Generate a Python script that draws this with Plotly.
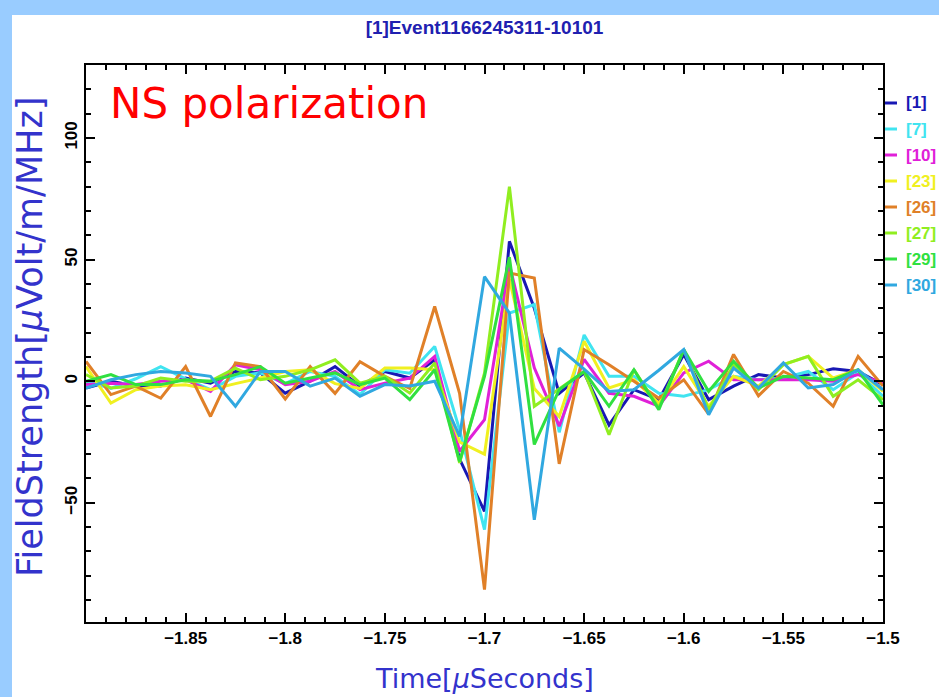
import plotly.graph_objects as go

# ---- data -----------------------------------------------------------------
times = [-1.9, -1.8875, -1.875, -1.8625, -1.85, -1.8375, -1.825, -1.8125, -1.8,
         -1.7875, -1.775, -1.7625, -1.75, -1.7375, -1.725, -1.7125, -1.7,
         -1.6875, -1.675, -1.6625, -1.65, -1.6375, -1.625, -1.6125, -1.6,
         -1.5875, -1.575, -1.5625, -1.55, -1.5375, -1.525, -1.5125, -1.5]

ant_1 = [-2.8, 0, -2, -2, 1.3, -0.8, 4, 3.4, -4.9, 0, 6, -2, 4, 1.3, 8.8, -32, -53.5,
         57.5, 30, -5, 3.4, -18, -3.5, -7.6, 11, -7.6, -2, 2.7, 1.3, 2.7, 5.1, 4, -1.4]
ant_7 = [0, -3, 1, 6, 1, -3.5, 2, 3.4, -1, 4, 2, -5.5, 4.7, 3.3, 14.3, -20, -61,
         28, 31.5, -21, 19, 2, 2, -5, -6.2, -3.5, 2, 0.6, 1.3, 4, -3.5, 3.4, -6.2]
ant_10 = [-1.4, -0.8, -1.4, 0, 0.6, -4.2, 6.8, 4.7, -1.4, 0, 4, -3.5, -0.8, 1.3, 10.2, -28.8, -15.8,
          48, 5.5, -18.5, 9, -5, -6.2, -10.3, 3.4, 8.2, 0.6, 0.6, 0.6, 0.6, 0, 2.7, -0.8]
ant_23 = [6, -9, -3.5, -2, -1.5, -3.5, -1, 1.3, 4, 4.7, -1, -3, 5.4, 5.4, 4.7, -25, -30,
          42, -3, -14.5, 16.4, -2.8, 0.6, -9, 6, -10.3, 2, -2, 6.8, 10.2, 1.3, 4.7, -4.2]
ant_26 = [8.1, -5.5, -2, -7, 6, -14.5, 7.5, 6, -7.3, 6, -5, 8, 2, -3, 30.7, -5, -85.7,
          44.5, 42.4, -34, 13, 6.8, 0, -7, 0.6, -13.5, 11, -6, 4, -0.8, -10.3, 10.2, -2]
ant_27 = [2.7, -2.8, -2, 1.3, 0, 0, 5.4, 0.6, 2, 4.7, 8.8, -0.8, 2, -4.9, 7.5, -33.6, 3.3,
          80, -10.3, -3, 4, -22, 4.7, -11, 13, -11.7, 6.8, -3.5, 6.8, 10.2, -6.2, 0.6, -7.6]
ant_29 = [0, 2.7, -1.4, -1.4, 0.6, 0, 2.7, 6, -0.8, 1.3, 3.4, -1.4, 1.3, -7.6, 4.7, -33, 2,
          51, -26, -3.5, 4, -10.3, 4.7, -11.7, 13, -4.2, 8.2, -2.8, 2, 1.3, 0.6, 4.7, -9.7]
ant_30 = [-2.8, 0.6, 2.7, 4, 3.4, 2, -10.3, 4, 4, -2, 1.3, -6.2, -1.4, -2, 0, -22.7, 43,
          28, -57, 13.6, 5, -4.2, -3.5, 4.5, 13, -13.8, 5.4, -2.8, 7.5, -2.8, -1.4, 4.7, -3.5]

series_names = ["[1]", "[7]", "[10]", "[23]", "[26]", "[27]", "[29]", "[30]"]
series_values = [ant_1, ant_7, ant_10, ant_23, ant_26, ant_27, ant_29, ant_30]
series_colors = ["#1818B4", "#40E4F0", "#E020D8", "#F0F020",
                 "#E08028", "#90EE20", "#30E040", "#30A8E0"]

x_range = [-1.9, -1.5]
y_range = [-99, 130]
x_tickvals = [-1.85, -1.8, -1.75, -1.7, -1.65, -1.6, -1.55, -1.5]
x_ticktext = ["\u22121.85", "\u22121.8", "\u22121.75", "\u22121.7",
              "\u22121.65", "\u22121.6", "\u22121.55", "\u22121.5"]
y_tickvals = [-50, 0, 50, 100]

title_text = "[1]Event1166245311-10101"
x_title = "Time[<i>\u03bc</i>Seconds]"
y_title = "FieldStrength[<i>\u03bc</i>Volt/m/MHz]"
note_text = "NS polarization"

# ---- layout geometry (pixels) -------------------------------------------
W, H = 939, 697
L, R, T, B = 86, 56, 65, 75
PW, PH = W - L - R, H - T - B


def px_x(p):
    return (p - L) / PW


def px_y(p):
    return (H - B - p) / PH


fig = go.Figure()
for name, vals, col in zip(series_names, series_values, series_colors):
    fig.add_trace(go.Scatter(x=times, y=vals, mode="lines", name=name,
                             line=dict(color=col, width=3), showlegend=False))

tick_font = dict(family="Liberation Sans", size=17, color="black", weight="bold")
axis_common = dict(showline=True, linecolor="black", linewidth=2,
                   ticks="inside", tickcolor="black", tickwidth=2, ticklen=9,
                   showgrid=False, zeroline=False)
x_minor = dict(dtick=0.01, tick0=-1.9, ticks="inside", ticklen=5,
               tickwidth=2, tickcolor="black", showgrid=False)
y_minor = dict(dtick=10, tick0=0, ticks="inside", ticklen=5,
               tickwidth=2, tickcolor="black", showgrid=False)

fig.update_layout(
    xaxis=dict(range=x_range, tickmode="array", tickvals=x_tickvals, ticktext=x_ticktext,
               tickfont=tick_font, minor=x_minor, mirror=True, **axis_common),
    yaxis=dict(range=y_range, tickmode="array", tickvals=y_tickvals, tickangle=-90,
               tickfont=tick_font, minor=y_minor, mirror=True, **axis_common),
    # mirrored tick marks on top and right borders
    xaxis2=dict(range=x_range, overlaying="x", side="top", anchor="y",
                tickmode="array", tickvals=x_tickvals, showticklabels=False,
                minor=x_minor, **axis_common),
    yaxis2=dict(range=y_range, overlaying="y", side="right", anchor="x",
                tickmode="array", tickvals=y_tickvals, showticklabels=False,
                minor=y_minor, **axis_common),
)
fig.add_trace(go.Scatter(x=[None], y=[None], xaxis="x2", yaxis="y2",
                         showlegend=False, hoverinfo="skip"))

shapes = [
    # light blue frame (top band and left strip)
    dict(type="rect", xref="paper", yref="paper", x0=px_x(0), x1=px_x(W),
         y0=px_y(15), y1=px_y(0), fillcolor="#99CCFF", line=dict(width=0), layer="below"),
    dict(type="rect", xref="paper", yref="paper", x0=px_x(0), x1=px_x(12),
         y0=px_y(H), y1=px_y(0), fillcolor="#99CCFF", line=dict(width=0), layer="below"),
]
annotations = [
    dict(text=note_text, xref="paper", yref="paper", x=px_x(108), y=px_y(104),
         xanchor="left", yanchor="middle", showarrow=False,
         font=dict(family="DejaVu Sans", size=42, color="#FF0000")),
    dict(text=y_title, xref="paper", yref="paper", x=px_x(30), y=px_y(337),
         xanchor="center", yanchor="middle", textangle=-90, showarrow=False,
         font=dict(family="DejaVu Sans", size=35, color="#3333CC")),
    dict(text=x_title, xref="paper", yref="paper", x=0.5, y=px_y(678),
         xanchor="center", yanchor="middle", showarrow=False,
         font=dict(family="DejaVu Sans", size=27, color="#3333CC")),
]
# custom legend on the right
for i, (name, col) in enumerate(zip(series_names, series_colors)):
    yc = px_y(103 + 26 * i)
    shapes.append(dict(type="line", xref="paper", yref="paper",
                       x0=px_x(885), x1=px_x(897), y0=yc, y1=yc,
                       line=dict(color=col, width=3)))
    annotations.append(dict(text=name, xref="paper", yref="paper", x=px_x(904), y=yc,
                            xanchor="left", yanchor="middle", showarrow=False,
                            font=dict(family="Liberation Sans", size=17, color=col,
                                      weight="bold")))

fig.update_layout(
    width=W, height=H, margin=dict(l=L, r=R, t=T, b=B, autoexpand=False),
    paper_bgcolor="white", plot_bgcolor="white",
    title=dict(text=title_text, x=0.5, xref="paper", y=1 - 27 / H, yanchor="middle",
               font=dict(family="Liberation Sans", size=19, color="#2020B0", weight="bold")),
    shapes=shapes, annotations=annotations, showlegend=False,
)

fig.write_html("out.html")
